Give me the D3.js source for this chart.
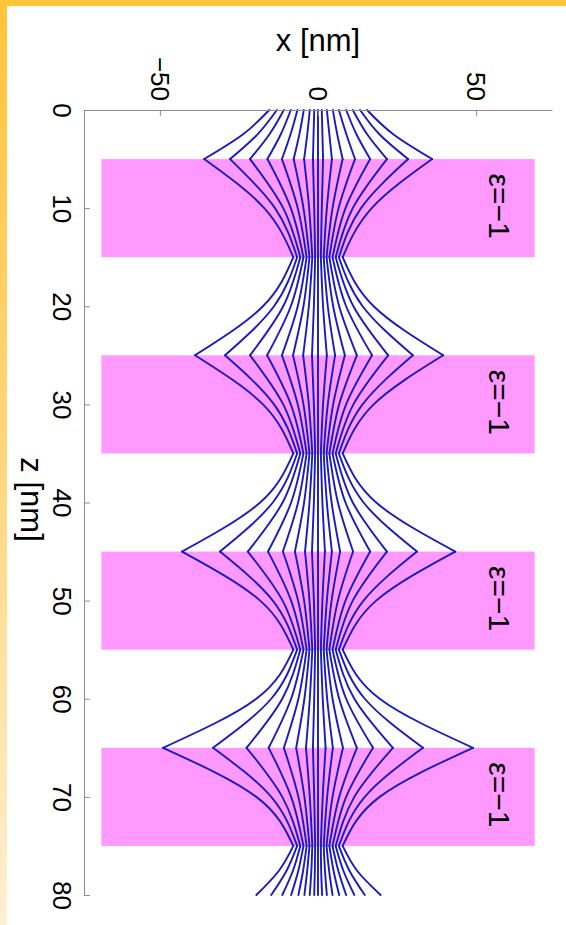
<!DOCTYPE html>
<meta charset="utf-8">
<head>
    <title>Field lines through a stack of epsilon = -1 slabs</title>
    <script type="text/javascript" src="https://cdn.jsdelivr.net/npm/d3@7/dist/d3.min.js"></script>
    <style>
        html, body { margin: 0; padding: 0; background: #fff; }
        svg { display: block; }
        text { font-family: "Liberation Sans", Arial, sans-serif; fill: #000; }
    </style>
</head>
<body>
<script>
    // z samples (nm) shared by every line
    var zSamples = [0, 2.5, 5, 10, 15, 20, 25, 30, 35, 40, 45, 50, 55, 60, 65, 70, 75, 77.5, 80];

    // lines on the negative x side, innermost first (|x| in nm at each z sample)
    var leftLines = [
        [1.2, 1.4, 1.6, 1.2, 0.9, 1.3, 1.9, 1.3, 0.9, 1.3, 1.9, 1.3, 0.9, 1.2, 1.6, 1.2, 0.9, 1.0, 1.2],
        [2.6, 3.4, 4.4, 2.8, 1.8, 2.9, 4.7, 2.9, 1.8, 2.7, 4.1, 2.7, 1.8, 2.6, 3.8, 2.6, 1.8, 2.1, 2.6],
        [4.5, 5.9, 7.7, 4.6, 2.7, 4.6, 7.9, 4.6, 2.7, 4.4, 7.3, 4.4, 2.7, 4.3, 6.9, 4.3, 2.7, 3.4, 4.3],
        [6.5, 8.7, 11.4, 6.4, 3.6, 6.4, 11.4, 6.4, 3.6, 6.3, 11.1, 6.3, 3.6, 6.2, 10.8, 6.2, 3.6, 4.7, 6.2],
        [8.6, 11.8, 16.0, 8.6, 4.6, 8.6, 16.1, 8.6, 4.6, 8.5, 15.8, 8.5, 4.6, 8.5, 15.6, 8.5, 4.6, 6.2, 8.5],
        [10.8, 15.4, 21.5, 11.0, 5.6, 11.0, 21.5, 11.0, 5.6, 11.2, 22.2, 11.2, 5.6, 11.3, 22.6, 11.3, 5.6, 7.9, 11.3],
        [13.0, 19.2, 27.8, 13.6, 6.6, 13.9, 29.4, 13.9, 6.6, 14.3, 31.0, 14.3, 6.6, 14.8, 33.2, 14.8, 6.6, 9.9, 14.8],
        [15.4, 23.8, 36.0, 17.0, 7.8, 17.4, 38.9, 17.4, 7.8, 18.3, 43.0, 18.3, 7.8, 19.5, 49.0, 19.5, 7.8, 12.3, 19.5]
    ];

    // lines on the positive x side, innermost first
    var rightLines = [
        [1.2, 1.4, 1.6, 1.2, 0.9, 1.6, 2.8, 1.6, 0.9, 1.4, 2.2, 1.4, 0.9, 1.5, 2.4, 1.5, 0.9, 1.0, 1.3],
        [2.8, 3.6, 4.4, 2.8, 1.8, 3.1, 5.4, 3.1, 1.8, 2.8, 4.4, 2.8, 1.8, 2.9, 4.7, 2.9, 1.8, 2.2, 2.8],
        [4.7, 6.1, 7.8, 4.6, 2.7, 4.8, 8.5, 4.8, 2.7, 4.3, 7.0, 4.3, 2.7, 4.6, 7.9, 4.6, 2.7, 3.5, 4.6],
        [6.6, 9.0, 11.7, 6.5, 3.6, 6.7, 12.3, 6.7, 3.6, 6.3, 11.1, 6.3, 3.6, 6.7, 12.3, 6.7, 3.6, 4.9, 6.7],
        [8.9, 12.2, 16.5, 8.7, 4.6, 8.9, 17.1, 8.9, 4.6, 8.7, 16.5, 8.7, 4.6, 8.9, 17.4, 8.9, 4.6, 6.4, 8.9],
        [11.0, 15.6, 21.8, 11.0, 5.6, 11.2, 22.2, 11.2, 5.6, 11.0, 21.8, 11.0, 5.6, 11.5, 23.7, 11.5, 5.6, 8.0, 11.5],
        [13.3, 19.5, 28.5, 13.6, 6.6, 14.1, 30.0, 14.1, 6.6, 14.4, 31.3, 14.4, 6.6, 14.8, 33.2, 14.8, 6.6, 9.9, 14.8],
        [15.5, 23.9, 36.1, 17.0, 7.8, 17.6, 39.6, 17.6, 7.8, 18.4, 43.4, 18.4, 7.8, 19.5, 49.0, 19.5, 7.8, 12.3, 19.8]
    ];

    // the axis line itself
    var centerLine = [0, 0, 0, 0, 0, 0, 0, 0, 0, 0, 0, 0, 0, 0, 0, 0, 0, 0, 0];

    // slabs with eps = -1 (z from, z to) and their x extent
    var slabs = [[5, 15], [25, 35], [45, 55], [65, 75]];
    var slabX = [-68.5, 68.5];
    var slabLabel = "ε=−1";
    var labelX = 57.6;

    // the curves kink at every slab face
    var faces = [0, 5, 15, 25, 35, 45, 55, 65, 75, 80];

    var zTicks = [0, 10, 20, 30, 40, 50, 60, 70, 80];
    var xTicks = [-50, 0, 50];

    var W = 566, H = 925;

    var svg = d3.select("body").append("svg")
        .attr("width", W)
        .attr("height", H);

    // orange frame (top bar + fading left bar)
    var grad = svg.append("defs").append("linearGradient")
        .attr("id", "frame")
        .attr("x1", 0).attr("y1", 0).attr("x2", 0).attr("y2", 1);
    grad.append("stop").attr("offset", "0%").attr("stop-color", "#ffc43a");
    grad.append("stop").attr("offset", "50%").attr("stop-color", "#ffd67c");
    grad.append("stop").attr("offset", "100%").attr("stop-color", "#fff0d2");

    svg.append("rect").attr("x", 0).attr("y", 0).attr("width", W).attr("height", H).attr("fill", "#fff");
    svg.append("rect").attr("x", 0).attr("y", 0).attr("width", 7).attr("height", H).attr("fill", "url(#frame)");
    svg.append("rect").attr("x", 0).attr("y", 0).attr("width", W).attr("height", 6).attr("fill", "#ffc43a");

    var x = d3.scaleLinear().domain([-74, 74]).range([84, 552]);
    var z = d3.scaleLinear().domain([0, 80]).range([110, 895]);

    // slabs
    svg.append("g").selectAll("rect")
        .data(slabs)
        .enter()
        .append("rect")
        .attr("x", x(slabX[0]))
        .attr("width", x(slabX[1]) - x(slabX[0]))
        .attr("y", function(d) { return z(d[0]); })
        .attr("height", function(d) { return z(d[1]) - z(d[0]); })
        .attr("fill", "#ff99ff");

    // build all lines as point lists
    function toPoints(vals, sign) {
        return vals.map(function(v, i) { return {z: zSamples[i], x: sign * v}; });
    }
    var lines = [];
    lines.push(toPoints(centerLine, 1));
    leftLines.forEach(function(l) { lines.push(toPoints(l, -1)); });
    rightLines.forEach(function(l) { lines.push(toPoints(l, 1)); });

    // split each line at slab faces so the kinks stay sharp
    var pieces = [];
    lines.forEach(function(pts) {
        for (var k = 0; k < faces.length - 1; k++) {
            var a = faces[k], b = faces[k + 1];
            pieces.push(pts.filter(function(p) { return p.z >= a && p.z <= b; }));
        }
    });

    var line = d3.line()
        .x(function(d) { return x(d.x); })
        .y(function(d) { return z(d.z); })
        .curve(d3.curveMonotoneY);

    svg.append("g")
        .selectAll("path")
        .data(pieces)
        .enter()
        .append("path")
        .attr("d", line)
        .attr("fill", "none")
        .attr("stroke", "#1a1ac0")
        .attr("stroke-width", 1.9)
        .attr("stroke-linejoin", "round")
        .attr("stroke-linecap", "round");

    // eps labels
    svg.append("g").selectAll("text")
        .data(slabs)
        .enter()
        .append("text")
        .attr("transform", function(d) {
            return "translate(" + x(labelX) + "," + (z((d[0] + d[1]) / 2) - 2) + ") rotate(90)";
        })
        .attr("text-anchor", "middle")
        .attr("dy", "0.36em")
        .style("font-size", "30px")
        .text(slabLabel);

    // left (z) axis, ticks pointing inward
    var zAxis = svg.append("g")
        .attr("transform", "translate(" + x.range()[0] + ",0)")
        .call(d3.axisLeft(z).tickValues(zTicks).tickSize(-6).tickSizeOuter(0));
    zAxis.select(".domain").attr("stroke", "#8c8c8c");
    zAxis.selectAll(".tick line").attr("stroke", "#8c8c8c");
    zAxis.selectAll(".tick text")
        .attr("x", null)
        .attr("dy", "0.36em")
        .attr("text-anchor", "middle")
        .attr("transform", "translate(-22,0) rotate(90)")
        .attr("fill", "#000")
        .style("font-size", "26px")
        .style("font-family", "'Liberation Sans', Arial, sans-serif");

    // top (x) axis
    var xAxis = svg.append("g")
        .attr("transform", "translate(0," + z.range()[0] + ")")
        .call(d3.axisTop(x).tickValues(xTicks).tickSize(-6).tickSizeOuter(0));
    xAxis.select(".domain").attr("stroke", "#8c8c8c");
    xAxis.selectAll(".tick line").attr("stroke", "#8c8c8c");
    xAxis.selectAll(".tick text")
        .attr("y", null)
        .attr("dy", "0.36em")
        .attr("text-anchor", "end")
        .attr("transform", "translate(0,-9) rotate(90)")
        .attr("fill", "#000")
        .style("font-size", "26px")
        .style("font-family", "'Liberation Sans', Arial, sans-serif");

    // axis titles
    svg.append("text")
        .attr("x", x(0))
        .attr("y", 51)
        .attr("text-anchor", "middle")
        .style("font-size", "31px")
        .text("x [nm]");

    svg.append("text")
        .attr("transform", "translate(21," + z(39.7) + ") rotate(90)")
        .attr("text-anchor", "middle")
        .style("font-size", "31px")
        .text("z [nm]");
</script>
</body>
</html>
